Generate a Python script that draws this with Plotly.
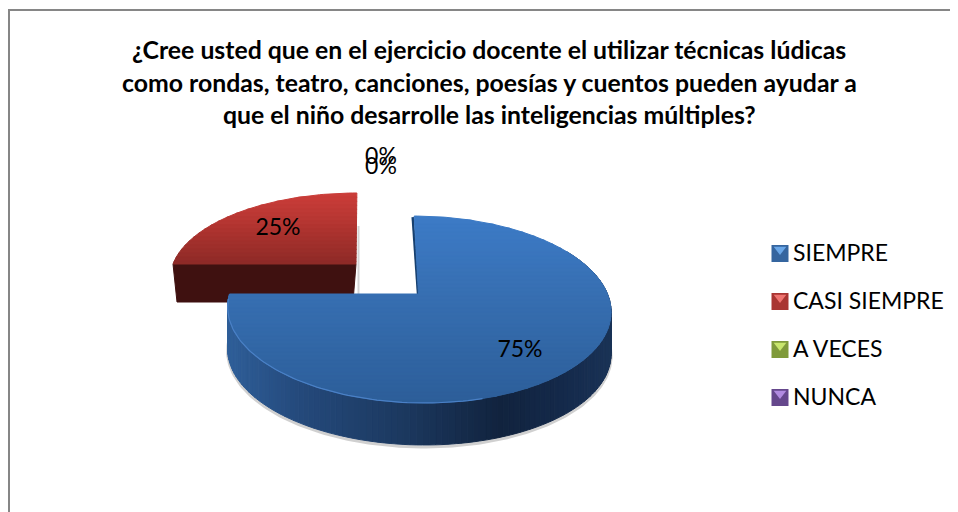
"""3D-look pie of the survey answers, drawn on a pixel-sized cartesian plot."""

import numpy as np
import plotly.graph_objects as go

TITLE_LINES = [
    "¿Cree usted que en el ejercicio docente el utilizar técnicas lúdicas",
    "como rondas, teatro, canciones, poesías y cuentos pueden ayudar a",
    "que el niño desarrolle las inteligencias múltiples?",
]
CATEGORIES = ["SIEMPRE", "CASI SIEMPRE", "A VECES", "NUNCA"]
VALUES = [75, 25, 0, 0]

KEY_COLORS = ["#35659f", "#a93532", "#7f9a3a", "#65478c"]
KEY_LIGHT = ["#6aa7e8", "#ef7470", "#c8e66c", "#b18be0"]

W, H = 958, 512
PAGE_MARGIN = 8  # the browser's body margin pushes the plot down and right
FONT = "Lato, Carlito, Calibri, sans-serif"

fig = go.Figure()


def hex_rgb(c):
    return np.array([int(c[i:i + 2], 16) for i in (1, 3, 5)], dtype=float)


def ramp(t, stops):
    # stops: list of (position, hex)
    pos = [s[0] for s in stops]
    rgb = np.array([hex_rgb(s[1]) for s in stops])
    vals = [np.interp(t, pos, rgb[:, i]) for i in range(3)]
    return "rgb({:.0f},{:.0f},{:.0f})".format(*vals)


def project(theta, ax, ay, rx, ry, k, shear):
    # theta in degrees clockwise from 12 o'clock, mild perspective
    u = np.sin(np.radians(theta))
    v = np.cos(np.radians(theta))
    w = 1 + k * v
    return ax + (rx * u + shear * v) / w, ay - ry * v / w


def clip_band(xs, ys, y0, y1):
    pts = list(zip(xs, ys))
    for keep_above, lim in ((False, y0), (True, y1)):
        out = []
        for i, (px, py) in enumerate(pts):
            qx, qy = pts[(i + 1) % len(pts)]
            p_in = py <= lim if keep_above else py >= lim
            q_in = qy <= lim if keep_above else qy >= lim
            if p_in:
                out.append((px, py))
            if p_in != q_in:
                out.append((px + (lim - py) / (qy - py) * (qx - px), lim))
        pts = out
        if not pts:
            return [], []
    return [p[0] for p in pts], [p[1] for p in pts]


def poly(xs, ys, color, line=None):
    fig.add_trace(go.Scatter(
        x=list(xs) + [xs[0]], y=list(ys) + [ys[0]],
        mode="lines", fill="toself", fillcolor=color,
        line=dict(color=line or color, width=1),
        hoverinfo="skip", showlegend=False,
    ))


def stroke(xs, ys, color, width):
    fig.add_trace(go.Scatter(
        x=xs, y=ys, mode="lines", line=dict(color=color, width=width),
        hoverinfo="skip", showlegend=False,
    ))


def gradient_face(xs, ys, stops, step=4):
    top, bottom = min(ys), max(ys)
    edges = np.arange(top, bottom + step, step)
    for y0, y1 in zip(edges[:-1], edges[1:]):
        bx, by = clip_band(xs, ys, y0, y1 + 0.5)
        if bx:
            poly(bx, by, ramp((y0 + y1) / 2, stops))


# slice angles come from the values, first slice starts at 12 o'clock
total = sum(VALUES)
ends = np.cumsum(VALUES) / total * 360
blue_end, red_end = ends[0], ends[1]

# --- red slice, exploded towards the back ---
RED = dict(ax=356, ay=264, rx=183, ry=82.8, k=0.166, shear=1)
th = np.linspace(blue_end, red_end, 60)
rx_pts, ry_pts = project(th, **RED)
fx = [rx_pts[0], RED["ax"], RED["ax"] - 3, rx_pts[0] + 4]
fy = [ry_pts[0], RED["ay"], RED["ay"] + 38, ry_pts[0] + 38]
stroke([358.5, 358.5], [226, 296], "#d4d4d4", 2)
poly(fx, fy, "#3f1110")
gradient_face(
    [RED["ax"]] + list(rx_pts), [RED["ay"]] + list(ry_pts),
    [(193, "#cc3e39"), (225, "#b33531"), (264, "#8d2a27")],
)

# --- blue slice ---
BLUE = dict(ax=418.5, ay=294, rx=189, ry=90.9, k=0.166, shear=-5)
DEPTH = 42
th = np.linspace(0, blue_end, 240)
bx, by = project(th, **BLUE)

# soft shadow under the wall
low = th[(th > 60) & (th <= blue_end)]
sx, sy = project(low, **BLUE)
stroke(list(sx), list(sy + DEPTH + 2), "rgba(120,120,120,0.35)", 3)

# wall, shaded left to right
wall_stops = [(227, "#2f5f99"), (300, "#24497b"), (400, "#1c3960"),
              (500, "#11233e"), (560, "#14294a"), (611, "#1a3356")]
wall_th = np.linspace(60, blue_end, 130)
for t0, t1 in zip(wall_th[:-1], wall_th[1:]):
    x0, y0 = project(t0, **BLUE)
    x1, y1 = project(t1, **BLUE)
    poly([x0, x1, x1, x0], [y0, y1, y1 + DEPTH, y0 + DEPTH],
         ramp((x0 + x1) / 2, wall_stops))

# sliver of the cut face at the notch
stroke([bx[0] - 1.5, BLUE["ax"] - 0.5], [by[0] + 1, BLUE["ay"]], "#17406f", 2.5)

gradient_face(
    [BLUE["ax"]] + list(bx), [BLUE["ay"]] + list(by),
    [(216, "#3c7bc7"), (294, "#376fb2"), (403, "#2c5e99")],
)

# lighter rim along the front edge
rim = np.linspace(blue_end - 3, 165, 80)
rimx, rimy = project(rim, **BLUE)
stroke(list(rimx), list(rimy), "#4a80c6", 1.2)

# --- data labels ---
LABEL_X = [520, 278, 381, 381]
LABEL_Y = [351, 229, 158, 168]
fig.add_trace(go.Scatter(
    x=LABEL_X, y=LABEL_Y, mode="text",
    text=[f"{v}%" for v in VALUES],
    textfont=dict(family=FONT, size=23, color="#000"),
    hoverinfo="skip", showlegend=False,
))

# --- legend keys and text ---
KEY_X = [780] * 4
KEY_Y = [253.5, 301.5, 349.5, 397.5]
fig.add_trace(go.Scatter(
    x=KEY_X, y=KEY_Y, mode="markers",
    marker=dict(symbol="square", size=17, color=KEY_COLORS),
    hoverinfo="skip", showlegend=False,
))
fig.add_trace(go.Scatter(
    x=KEY_X, y=[y - 4 for y in KEY_Y], mode="markers",
    marker=dict(symbol="triangle-down", size=11, color=KEY_LIGHT),
    hoverinfo="skip", showlegend=False,
))
fig.add_trace(go.Scatter(
    x=[793] * 4, y=[y + 1.5 for y in KEY_Y], mode="text",
    text=CATEGORIES, textposition="middle right",
    textfont=dict(family=FONT, size=23, color="#000"),
    hoverinfo="skip", showlegend=False,
))

# --- title, one annotation per line for Excel's line spacing ---
for line, y in zip(TITLE_LINES, [49, 82, 114]):
    fig.add_annotation(
        x=489, y=y, text=f"<b>{line}</b>", showarrow=False,
        font=dict(family=FONT, size=24.8, color="#000"),
    )

# chart frame, runs off the right and bottom of the picture
fig.add_shape(type="rect", x0=9, y0=10, x1=1000, y1=560,
              line=dict(color="#868686", width=2), layer="below")

fig.update_layout(
    width=W, height=H,
    margin=dict(l=0, r=0, t=0, b=0),
    paper_bgcolor="#fff", plot_bgcolor="#fff",
    showlegend=False,
    xaxis=dict(range=[PAGE_MARGIN, W + PAGE_MARGIN], visible=False, fixedrange=True),
    yaxis=dict(range=[H + PAGE_MARGIN, PAGE_MARGIN], visible=False, fixedrange=True),
)
fig.write_html("out.html")
